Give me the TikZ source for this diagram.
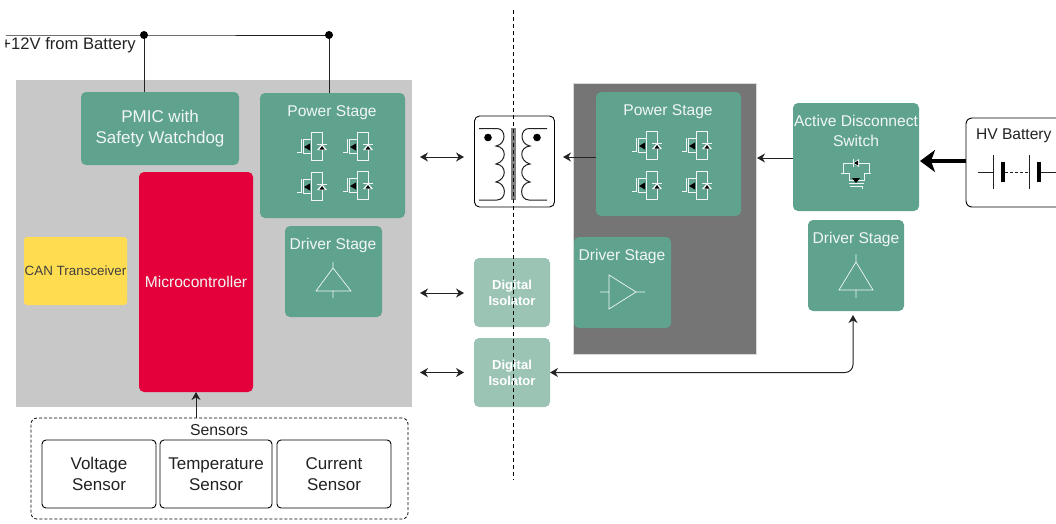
\documentclass[tikz,border=0pt]{standalone}
\usepackage{fontspec}
\setmainfont{Liberation Sans}
\usetikzlibrary{arrows.meta,calc}
\definecolor{grn}{HTML}{5FA38F}
\definecolor{lgrn}{HTML}{9CC4B5}
\definecolor{sheet}{HTML}{C8C8C8}
\definecolor{dark}{HTML}{757575}
\definecolor{mcured}{HTML}{E4003A}
\definecolor{canyel}{HTML}{FFDC50}
\definecolor{ink}{HTML}{222222}
\definecolor{pale}{HTML}{F1F6F4}
\tikzset{
  base/.style={inner sep=0pt,outer sep=0pt,align=center,font=\fontsize{15.6}{20.5}\selectfont},
  gbox/.style={base,rectangle,rounded corners=5pt,fill=grn,text=pale},
  ibox/.style={base,rectangle,rounded corners=5pt,fill=lgrn,text=white,font=\fontsize{13}{16}\selectfont\bfseries},
  wbox/.style={base,rectangle,rounded corners=4pt,draw=black,line width=0.9pt,fill=white,text=ink},
  sbox/.style={wbox,font=\fontsize{17}{20.5}\selectfont},
  sheetbox/.style={base,rectangle,fill=sheet},
  captxt/.style={base,text=pale},
  capk/.style={base,text=ink},
  wire/.style={draw=ink,line width=1pt},
  arr/.style={draw=ink,line width=1pt,-{Stealth[length=8pt,width=9pt]}},
  darr/.style={draw=ink,line width=1pt,{Stealth[length=8pt,width=9pt]}-{Stealth[length=8pt,width=9pt]}},
  sym/.style={draw=pale,line width=0.7pt},
  symf/.style={fill=black,draw=none},
  mosfet/.pic={
    \draw[sym] (-15,5.5) -- (-11,5.5) -- (-11,-8);
    \draw[sym] (-9,-8) -- (-9,7);
    \draw[sym] (-9,-8) -- (-1,-8) (-9,6) -- (-1,6);
    \draw[sym] (-1,-15) -- (-1,14);
    \draw[sym] (-1,-15) -- (10,-15) -- (10,13) -- (-1,13);
    \fill[symf] (-8,0) -- (-2,-3.5) -- (-2,3.5) -- cycle;
    \fill[pale] (5,3) -- (15,3) -- (10,-3) -- cycle;
    \fill[symf] (7.5,2.5) -- (12.5,2.5) -- (10,-1) -- cycle;
    \draw[sym] (5,-3) -- (15,-3);
  },
  disconnect/.pic={
    \draw[sym] (-13,-12) -- (13,-12);
    \draw[sym] (-13,-12) -- (-13,-2) -- (-15,-2) (-15,-2) -- (-7,-2) -- (-7,5) -- (8,5) -- (8,-2) -- (15,-2) (13,-2) -- (13,-12);
    \fill[white] (-3,-12) -- (3,-16) -- (3,-8) -- cycle;
    \fill[symf] (-2,-12) -- (2,-14.5) -- (2,-9.5) -- cycle;
    \draw[sym] (-3,-16) -- (-3,-8);
    \fill[symf] (-4,3) -- (4,3) -- (0,8) -- cycle;
    \draw[sym] (-7,8) -- (8,8);
    \draw[sym] (-6,11.5) -- (6,11.5) -- (6,14);
  },
}
\begin{document}
\begin{tikzpicture}[x=1pt,y=-1pt]
\useasboundingbox (0,0) rectangle (1056,523);
% 12 V supply
\node[capk,anchor=west,font=\fontsize{16.6}{20}\selectfont] (v12) at (1.5,45) {+12V from Battery};
\fill[white] (0,36) rectangle (5,54);
% left sheet
\node[sheetbox,minimum width=396pt,minimum height=327pt] (lv) at (214,243.5) {};
\node[gbox,minimum width=158pt,minimum height=73pt,font=\fontsize{17}{20.5}\selectfont] (pmic) at (160,128.5) {PMIC with\\Safety Watchdog};
\node[gbox,minimum width=145pt,minimum height=125pt] (ps1) at (332.5,155.5) {};
\node[captxt] (ps1t) at (332,112.5) {Power Stage};
\pic at (312,147) {mosfet};
\pic at (358,147) {mosfet};
\pic at (312,187) {mosfet};
\pic at (358,186) {mosfet};
\node[gbox,minimum width=97pt,minimum height=91pt] (dr1) at (333.5,271.5) {};
\node[captxt] (dr1t) at (333,245.5) {Driver Stage};
\draw[sym] (333,262) -- (333,268) (316,291) -- (351,291) -- (333,268) -- cycle (333,291) -- (333,298);
\node[base,rectangle,rounded corners=5pt,fill=mcured,text=pale,minimum width=114pt,minimum height=220pt] (mcu) at (196,282) {Microcontroller};
\node[base,rectangle,rounded corners=3pt,fill=canyel,text=black!75,minimum width=103pt,minimum height=68pt,font=\fontsize{13.4}{16}\selectfont] (can) at (75.5,271) {CAN Transceiver};
% sensors
\node[base,rectangle,rounded corners=6pt,draw=black,densely dashed,line width=0.8pt,minimum width=377pt,minimum height=101pt] (sens) at (219.5,468.5) {};
\node[capk,font=\fontsize{15.8}{18}\selectfont] (senst) at (219,430.5) {Sensors};
\node[sbox,minimum width=114pt,minimum height=68pt] (s1) at (99,474) {Voltage\\Sensor};
\node[sbox,minimum width=112pt,minimum height=68pt] (s2) at (216,474) {Temperature\\Sensor};
\node[sbox,minimum width=114pt,minimum height=68pt] (s3) at (334,474) {Current\\Sensor};
% transformer
\node[wbox,minimum width=80pt,minimum height=91pt,rounded corners=5pt] (xf) at (514.5,161.5) {};
\fill[gray] (510.5,128) rectangle (515.5,200);
\draw[draw=ink,line width=1pt] (479,128.5) -- (497,128.5)
  .. controls (506,128.5) and (507,144) .. (496,146)
  .. controls (507,147) and (507,161) .. (496,164)
  .. controls (507,165) and (507,179) .. (496,182)
  .. controls (507,183) and (507,200) .. (497,200) -- (479,200);
\draw[draw=ink,line width=1pt] (547,128.5) -- (529,128.5)
  .. controls (520,128.5) and (519,144) .. (530,146)
  .. controls (519,147) and (519,161) .. (530,164)
  .. controls (519,165) and (519,179) .. (530,182)
  .. controls (519,183) and (519,200) .. (529,200) -- (547,200);
\fill[black] (488,137.5) circle (3.8);
\fill[black] (537,137.5) circle (3.8);
% isolators
\node[ibox,minimum width=76pt,minimum height=69pt] (di1) at (512,292.5) {Digital\\Isolator};
\node[ibox,minimum width=76pt,minimum height=69pt] (di2) at (512,372.5) {Digital\\Isolator};
% dark sheet
\node[base,rectangle,fill=dark,minimum width=183pt,minimum height=271pt,draw=black!15,line width=0.5pt] (hv) at (664.5,218.5) {};
\node[gbox,minimum width=145pt,minimum height=124pt] (ps2) at (668.5,154) {};
\node[captxt] (ps2t) at (668,111.5) {Power Stage};
\pic at (647,146) {mosfet};
\pic at (697,146) {mosfet};
\pic at (647,186) {mosfet};
\pic at (697,186) {mosfet};
\node[gbox,minimum width=97pt,minimum height=91pt] (dr2) at (622.5,282.5) {};
\node[captxt] (dr2t) at (622,256) {Driver Stage};
\draw[sym] (609,275) -- (609,309) -- (636,292) -- cycle (600,292) -- (609,292) (636,292) -- (645,292);
% active disconnect
\node[gbox,minimum width=126pt,minimum height=108pt] (act) at (856,157) {};
\node[captxt] (actt) at (856,131) {Active Disconnect\\Switch};
\pic at (856,175) {disconnect};
\node[gbox,minimum width=96pt,minimum height=91pt] (dr3) at (856,265.5) {};
\node[captxt] (dr3t) at (856,239.5) {Driver Stage};
\draw[sym] (856,254) -- (856,262) (839,290) -- (873,290) -- (856,262) -- cycle (856,290) -- (856,298);
% HV battery
\node[wbox,minimum width=110pt,minimum height=89pt,rounded corners=6pt] (bat) at (1021,162.5) {};
\node[capk,anchor=west] (batt) at (976,136) {HV Battery};
\draw[wire] (978,172) -- (993,172) (993,155) -- (993,189) (1029,155) -- (1029,189) (1039,172) -- (1056,172);
\fill[black] (1001,162) rectangle (1005,182);
\fill[black] (1037,162) rectangle (1041,182);
\draw[wire,densely dashed] (1005,172) -- (1029,172);
% connectors
\coordinate (railL) at (6,35);
\coordinate (j1) at (144,35);
\coordinate (j2) at (329,35);
\draw[wire] (railL) -- (j1) -- (j2);
\draw[wire] (j1) -- (j1 |- pmic.north);
\draw[wire] (j2) -- (j2 |- ps1.north);
\fill[black] (j1) circle (4);
\fill[black] (j2) circle (4);
\coordinate (a1l) at (420,157); \coordinate (a1r) at (464,157);
\coordinate (a2l) at (420,293); \coordinate (a2r) at (464,293);
\coordinate (a3l) at (420,372.5); \coordinate (a3r) at (464,372.5);
\draw[darr] (a1l) -- (a1r);
\draw[darr] (a2l) -- (a2r);
\draw[darr] (a3l) -- (a3r);
\coordinate (t1) at (563,157);
\draw[arr] (ps2.west |- t1) -- (t1);
\coordinate (t2) at (757,158);
\draw[arr] (act.west |- t2) -- (t2);
\coordinate (t3) at (920,161);
\draw[draw=black,line width=4pt,-{Stealth[length=15pt,width=22pt,inset=4pt]}] (bat.west |- t3) -- (t3);
\draw[arr] (sens.north -| mcu.south) -- (mcu.south);
\coordinate (t4) at (853,315);
\draw[darr,rounded corners=8pt] (di2.east) -| (t4);
% isolation barrier
\coordinate (bt) at (513,10);
\coordinate (bb) at (513,480);
\draw[black,line width=1pt,dash pattern=on 3.5pt off 3.5pt] (bt) -- (bb);
\end{tikzpicture}
\end{document}
